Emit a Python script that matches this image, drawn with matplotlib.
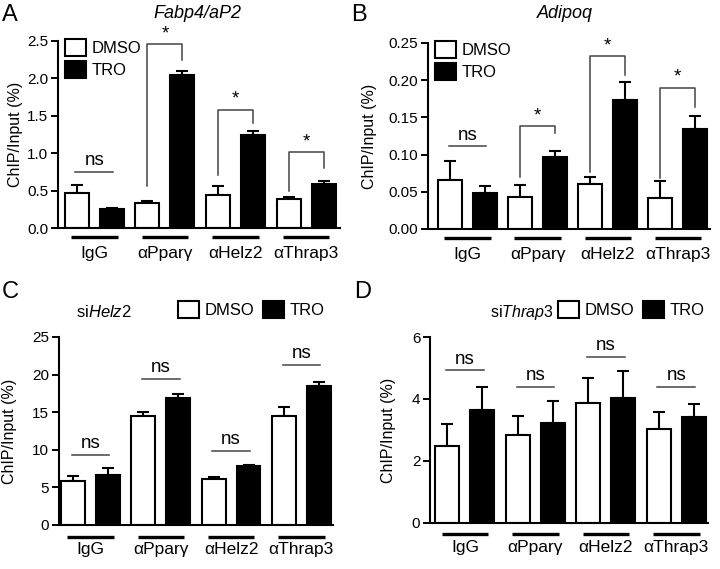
import matplotlib
matplotlib.use("Agg")
import matplotlib.pyplot as plt
from matplotlib.patches import Patch
import numpy as np

plt.rcParams['font.family'] = ['Liberation Sans', 'DejaVu Sans']
plt.rcParams['mathtext.fontset'] = 'custom'
plt.rcParams['mathtext.rm'] = 'Liberation Sans'
plt.rcParams['mathtext.it'] = 'Liberation Sans:italic'

groups = ["IgG", "\u03b1Ppar\u03b3", "\u03b1Helz2", "\u03b1Thrap3"]

# panel A: Fabp4/aP2
a_dmso = [0.47, 0.33, 0.44, 0.39]
a_dmso_err = [0.10, 0.03, 0.12, 0.03]
a_tro = [0.26, 2.04, 1.25, 0.59]
a_tro_err = [0.005, 0.06, 0.05, 0.04]
# (group, label, top, left leg bottom, right leg bottom)
a_marks = [(0, "ns", 0.75, None, None), (1, "*", 2.46, 0.555, 2.24),
           (2, "*", 1.58, 0.71, 1.40), (3, "*", 1.01, 0.49, 0.80)]

# panel B: Adipoq
b_dmso = [0.066, 0.043, 0.061, 0.041]
b_dmso_err = [0.025, 0.016, 0.009, 0.024]
b_tro = [0.049, 0.097, 0.173, 0.135]
b_tro_err = [0.009, 0.008, 0.024, 0.017]
b_marks = [(0, "ns", 0.111, None, None), (1, "*", 0.138, 0.070, 0.129),
           (2, "*", 0.232, 0.077, 0.207), (3, "*", 0.190, 0.068, 0.164)]

# panel C: siHelz2
c_dmso = [5.86, 14.52, 6.08, 14.52]
c_dmso_err = [0.7, 0.45, 0.35, 1.15]
c_tro = [6.66, 16.87, 7.86, 18.52]
c_tro_err = [0.98, 0.58, 0.13, 0.45]
c_marks = [(0, "ns", 9.33, None, None), (1, "ns", 19.4, None, None),
           (2, "ns", 9.9, None, None), (3, "ns", 21.3, None, None)]

# panel D: siThrap3
d_dmso = [2.48, 2.85, 3.87, 3.04]
d_dmso_err = [0.70, 0.59, 0.81, 0.53]
d_tro = [3.63, 3.23, 4.04, 3.42]
d_tro_err = [0.76, 0.71, 0.86, 0.41]
d_marks = [(0, "ns", 4.92, None, None), (1, "ns", 4.39, None, None),
           (2, "ns", 5.35, None, None), (3, "ns", 4.39, None, None)]

W, H = 720, 569
fig = plt.figure(figsize=(7.2, 5.69), dpi=100)


def px_axes(left, right, top, bottom):
    return fig.add_axes([left / W, (H - bottom) / H, (right - left) / W, (bottom - top) / H])


def draw_panel(ax, dmso, dmso_err, tro, tro_err, marks, ymax, ystep, fmt, xlim,
               ylab_x, line_off, label_pad):
    x = np.arange(len(groups))
    off, bw = 0.248, 0.34
    ax.bar(x - off, dmso, bw, color="white", edgecolor="black", linewidth=1.5, zorder=2)
    ax.bar(x + off, tro, bw, color="black", edgecolor="black", linewidth=1.5, zorder=2)
    ax.errorbar(x - off, dmso, yerr=[np.zeros(len(x)), dmso_err], fmt="none",
                ecolor="black", elinewidth=1.5, capsize=4, capthick=1.5, zorder=1)
    ax.errorbar(x + off, tro, yerr=[np.zeros(len(x)), tro_err], fmt="none",
                ecolor="black", elinewidth=1.5, capsize=4, capthick=1.5, zorder=1)
    ax.set_xlim(*xlim)
    ax.set_ylim(0, ymax)
    ticks = np.arange(0, ymax + ystep / 2, ystep)
    ax.set_yticks(ticks)
    ax.set_yticklabels([fmt.format(t) for t in ticks], fontsize=11)
    ax.set_xticks(x)
    ax.set_xticklabels(groups, fontsize=12.5)
    ax.tick_params(axis="x", length=0, pad=label_pad)
    ax.tick_params(axis="y", length=5, width=1.4, pad=2)
    for s in ["top", "right"]:
        ax.spines[s].set_visible(False)
    ax.spines["left"].set_linewidth(1.5)
    ax.spines["bottom"].set_linewidth(1.5)
    ax.set_ylabel("ChIP/Input (%)", fontsize=11.5)
    ax.yaxis.set_label_coords(ylab_x, 0.5)
    trans = ax.get_xaxis_transform()
    for xi in x:
        ax.plot([xi - 0.33, xi + 0.33], [-line_off, -line_off], color="black",
                linewidth=2.4, transform=trans, clip_on=False, solid_capstyle="butt")
    for g, lab, top, lo_l, lo_r in marks:
        xl, xr = g - off, g + off
        if lab == "ns":
            ax.plot([xl - 0.02, xr + 0.02], [top, top], color="#444444", linewidth=1.1)
            ax.text(g, top + ymax * 0.015, "ns", ha="center", va="bottom", fontsize=13.5)
        else:
            ax.plot([xl, xl, xr, xr], [lo_l, top, top, lo_r], color="#444444", linewidth=1.1)
            ax.text(g, top + ymax * 0.01, "*", ha="center", va="bottom", fontsize=13.5)


axA = px_axes(58, 340, 41, 228)
draw_panel(axA, a_dmso, a_dmso_err, a_tro, a_tro_err, a_marks, 2.5, 0.5, "{:.1f}",
           (-0.514, 3.48), -0.125, 0.048, 13)
axB = px_axes(428, 710, 43, 229)
draw_panel(axB, b_dmso, b_dmso_err, b_tro, b_tro_err, b_marks, 0.25, 0.05, "{:.2f}",
           (-0.563, 3.46), -0.18, 0.048, 13)
axC = px_axes(59, 333, 337, 525)
draw_panel(axC, c_dmso, c_dmso_err, c_tro, c_tro_err, c_marks, 25, 5, "{:.0f}",
           (-0.448, 3.45), -0.155, 0.064, 12)
axD = px_axes(430, 708, 337, 523)
draw_panel(axD, d_dmso, d_dmso_err, d_tro, d_tro_err, d_marks, 6, 2, "{:.0f}",
           (-0.496, 3.45), -0.122, 0.059, 12)

handles = [Patch(facecolor="white", edgecolor="black", linewidth=1.5, label="DMSO"),
           Patch(facecolor="black", edgecolor="black", linewidth=1.5, label="TRO")]
for ax in (axA, axB):
    ax.legend(handles=handles, loc="upper left", bbox_to_anchor=(0.025, 1.01),
              frameon=False, fontsize=12, handlelength=1.25, handleheight=1.15,
              handletextpad=0.35, labelspacing=0.3, borderaxespad=0, borderpad=0)
for ax, lx in ((axC, 178), (axD, 558)):
    ax.legend(handles=handles, loc="upper left", bbox_to_anchor=(lx / W, 1 - 301 / H),
              bbox_transform=fig.transFigure, ncol=2, frameon=False, fontsize=12,
              handlelength=1.25, handleheight=1.15, handletextpad=0.35,
              columnspacing=0.5, borderaxespad=0, borderpad=0)

fig.text(76 / W, 1 - 312 / H, r"si$\mathit{Helz2}$", ha="left", va="center", fontsize=12)
fig.text(490 / W, 1 - 313 / H, r"si$\mathit{Thrap3}$", ha="left", va="center", fontsize=11.5)
fig.text(197 / W, 1 - 14 / H, "Fabp4/aP2", ha="center", va="center", fontsize=13, style="italic")
fig.text(565 / W, 1 - 14 / H, "Adipoq", ha="center", va="center", fontsize=13, style="italic")

for lab, px, py in (("A", 2, 4), ("B", 351, 4), ("C", 2, 281), ("D", 354, 281)):
    fig.text(px / W, 1 - py / H, lab, ha="left", va="top", fontsize=17)

fig.savefig("out.png", dpi=100)
